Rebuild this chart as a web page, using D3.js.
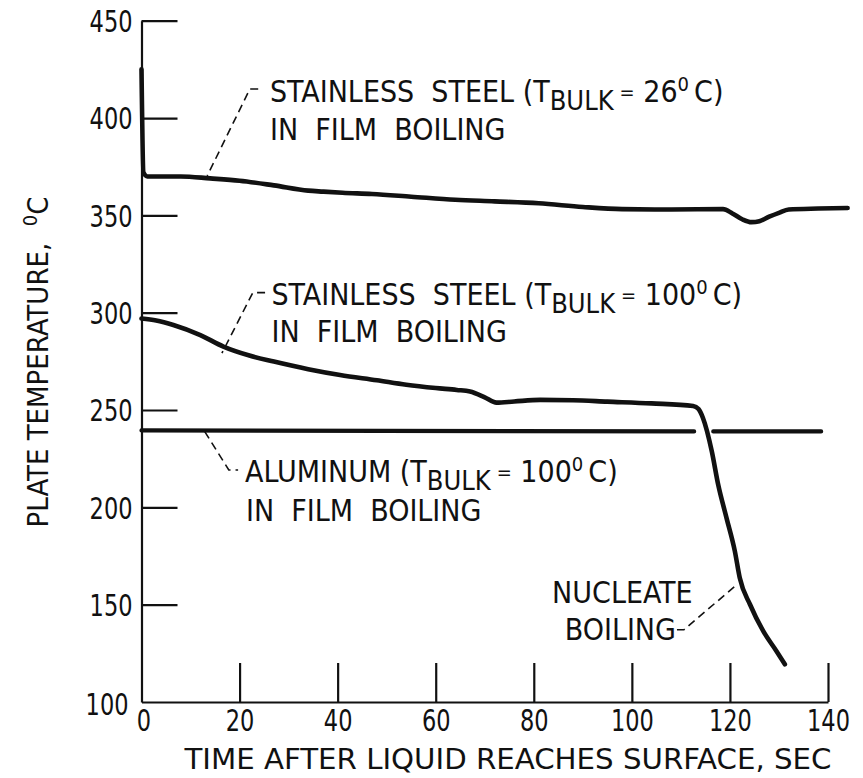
<!DOCTYPE html>
<html>
<head>
<meta charset="utf-8">
<script src="https://cdn.jsdelivr.net/npm/d3@7"></script>
<style>
  html, body { margin: 0; padding: 0; background: #fff; }
  svg text { fill: #111; white-space: pre; }
</style>
</head>
<body>
<svg id="chart" width="863" height="778"></svg>
<script>
// ---------------- DATA ----------------
const xTicks = [0, 20, 40, 60, 80, 100, 120, 140];
const yTicks = [100, 150, 200, 250, 300, 350, 400, 450];

// Stainless steel, T_bulk = 26 C
const ss26Time = [0, 0.4, 1.2, 8, 14, 20, 27, 34, 37, 41, 47, 55, 64, 72, 81, 90, 98, 108, 118.6, 120.5, 122.5, 124.4, 126, 128, 130, 132, 138, 144];
const ss26Temp = [425, 372, 370, 370, 369, 367.8, 365.4, 362.7, 362.2, 361.6, 361, 359.6, 358, 357.2, 356.2, 354.3, 353.2, 353, 353.2, 351, 348, 346.5, 347, 349.3, 351.3, 353, 353.5, 353.8];

// Stainless steel, T_bulk = 100 C
const ss100Time = [0, 3, 6.5, 12, 16.7, 22, 27, 34, 40.5, 48, 54, 60, 64.3, 67, 70, 72.4, 76, 81.3, 88, 95, 104, 112.5, 113.6, 114.5, 116.3, 117.6, 119.3, 121, 122, 124.1, 126.8, 129.5, 131.2];
const ss100Temp = [297, 296, 293.7, 288.5, 282.6, 278, 274.9, 271, 268, 265.3, 263, 261.3, 260.3, 259.5, 256.5, 253.8, 254.4, 255.2, 255, 254.3, 253.4, 252.1, 250.5, 245.9, 228.8, 211.7, 194.6, 177.5, 163.8, 150.1, 136.4, 126.1, 119.4];

// Aluminum, T_bulk = 100 C (line is interrupted where the steel curve crosses it)
const alTime = [0, 112.7, null, 116.6, 138.6];
const alTemp = [239.5, 239, null, 239, 239];

// Annotation leader lines, in data units [time, temp]
const lead1 = [[23.8, 414.9], [22.1, 414.9], [13.4, 370.3]];
const lead2 = [[25.2, 310.3], [22.7, 310.3], [16.4, 279.2]];
const lead3 = [[12.9, 238.9], [17.8, 219.2], [19.7, 219.2]];
const lead4 = [[109.2, 137.1], [110.6, 137.1], [121.6, 160.7]];

// ---------------- LAYOUT ----------------
const FONT = '"Liberation Sans Narrow", "DejaVu Sans Condensed", "Liberation Sans", sans-serif';
const svg = d3.select("#chart");
svg.append("rect").attr("width", 863).attr("height", 778).attr("fill", "#fff");

const x = d3.scaleLinear().domain([0, 140]).range([141.5, 828]);
const y = d3.scaleLinear().domain([100, 450]).range([702, 20.7]);

const ink = "#111";

// Axes
const yAxis = d3.axisLeft(y).tickValues(yTicks).tickSizeInner(-36).tickSizeOuter(0).tickPadding(9).tickFormat(d3.format("d"));
const gy = svg.append("g").attr("transform", `translate(${x(0)},0)`).call(yAxis);
gy.select(".domain").attr("stroke", ink).attr("stroke-width", 2.2);
gy.selectAll(".tick line").attr("stroke", ink).attr("stroke-width", 2.2);
gy.selectAll(".tick text").attr("font-family", FONT).attr("font-size", 30).attr("fill", ink).attr("dy", "0.36em")
  .attr("textLength", d => String(d).length * 14.3).attr("lengthAdjust", "spacingAndGlyphs");
gy.selectAll(".tick").filter(d => d === 100).select("line").remove();
gy.selectAll(".tick").filter(d => d === 100).select("text").attr("dy", "0.40em").attr("x", -13);

const xAxis = d3.axisBottom(x).tickValues(xTicks).tickSizeInner(-39).tickSizeOuter(0).tickPadding(7).tickFormat(d3.format("d"));
const gx = svg.append("g").attr("transform", `translate(0,${y(100)})`).call(xAxis);
gx.select(".domain").attr("stroke", ink).attr("stroke-width", 2.2);
gx.selectAll(".tick line").attr("stroke", ink).attr("stroke-width", 2.2);
gx.selectAll(".tick").filter(d => d === 0).select("line").remove();
gx.selectAll(".tick text").attr("font-family", FONT).attr("font-size", 30).attr("fill", ink).attr("dy", "0.72em")
  .attr("textLength", d => String(d).length * 14.3).attr("lengthAdjust", "spacingAndGlyphs");
gx.selectAll(".tick").filter(d => d === 0).select("text").attr("x", 2);

// Axis titles
const yt = svg.append("text")
  .attr("transform", `translate(${48},${362}) rotate(-90)`)
  .attr("text-anchor", "middle")
  .attr("font-family", FONT).attr("font-size", 29);
yt.append("tspan").text("PLATE TEMPERATURE,  ");
yt.append("tspan").attr("font-size", 20).attr("dy", -11).text("0");
yt.append("tspan").attr("dy", 11).text("C");

svg.append("text")
  .attr("x", 508).attr("y", 769)
  .attr("text-anchor", "middle")
  .attr("font-family", FONT).attr("font-size", 28)
  .attr("textLength", 647).attr("lengthAdjust", "spacingAndGlyphs")
  .text("TIME AFTER LIQUID REACHES SURFACE, SEC");

// Curves
const line = d3.line()
  .defined(d => d[0] !== null)
  .x(d => x(d[0])).y(d => y(d[1]))
  .curve(d3.curveMonotoneX);

const ss26 = ss26Time.map((t, i) => [t, ss26Temp[i]]);
const ss100 = ss100Time.map((t, i) => [t, ss100Temp[i]]);
const al = alTime.map((t, i) => [t, alTemp[i]]);

svg.append("path").datum(ss26).attr("d", line)
  .attr("fill", "none").attr("stroke", ink).attr("stroke-width", 4.6)
  .attr("stroke-linejoin", "round").attr("stroke-linecap", "round");
svg.append("path").datum(ss100).attr("d", line)
  .attr("fill", "none").attr("stroke", ink).attr("stroke-width", 4.6)
  .attr("stroke-linejoin", "round").attr("stroke-linecap", "round");
svg.append("path").datum(al).attr("d", line)
  .attr("fill", "none").attr("stroke", ink).attr("stroke-width", 4.2)
  .attr("stroke-linejoin", "round").attr("stroke-linecap", "round");

// Leader lines
const lead = d3.line().x(d => x(d[0])).y(d => y(d[1]));
[lead1, lead2, lead3, lead4].forEach(L => {
  svg.append("path").attr("d", lead(L))
    .attr("fill", "none").attr("stroke", ink).attr("stroke-width", 1.6)
    .attr("stroke-dasharray", "8,5");
});

// Annotation text helper: label with subscript BULK and superscript 0
function bulkLabel(t, T, prefix, value) {
  const tx = svg.append("text")
    .attr("x", x(t)).attr("y", y(T))
    .attr("font-family", FONT).attr("font-size", 30);
  tx.append("tspan").text(prefix + "(T");
  tx.append("tspan").attr("dy", 8).attr("font-size", 27).text("BULK");
  tx.append("tspan").attr("dy", -11).attr("dx", 6).attr("font-size", 20).text("=");
  tx.append("tspan").attr("dy", 3).text(" " + value);
  tx.append("tspan").attr("dy", -11).attr("font-size", 20).text("0");
  tx.append("tspan").attr("dy", 11).attr("dx", 5).text("C)");
  return tx;
}
function plain(t, T, str, anchor) {
  return svg.append("text")
    .attr("x", x(t)).attr("y", y(T))
    .attr("text-anchor", anchor || "start")
    .attr("font-family", FONT).attr("font-size", 30)
    .text(str);
}

bulkLabel(26.2, 408.2, "STAINLESS  STEEL ", "26");
plain(26.2, 388.7, "IN  FILM  BOILING");

bulkLabel(26.5, 304, "STAINLESS  STEEL ", "100");
plain(26.5, 285, "IN  FILM  BOILING");

bulkLabel(21.1, 213.2, "ALUMINUM ", "100");
plain(21.3, 192.8, "IN  FILM  BOILING");

plain(112.4, 151, "NUCLEATE", "end");
plain(109.0, 132, "BOILING", "end");
</script>
</body>
</html>
